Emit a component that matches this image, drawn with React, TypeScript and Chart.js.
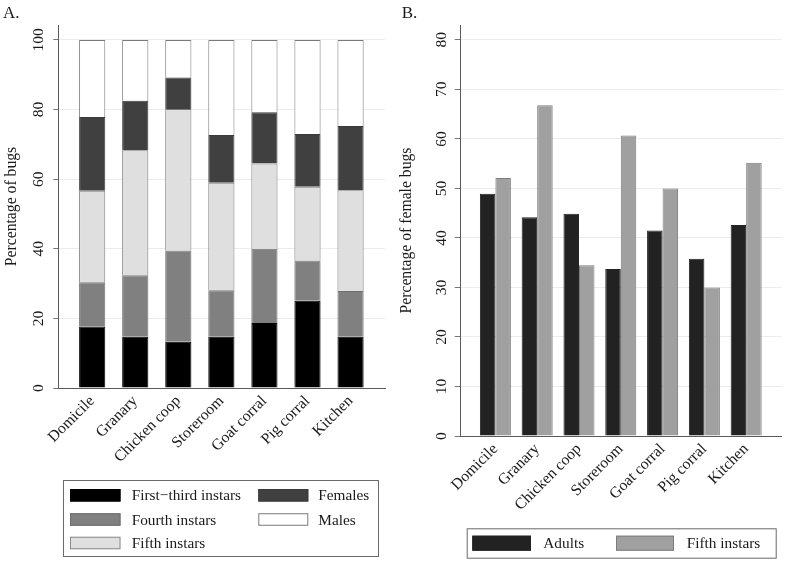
import React, { useEffect, useRef } from "react";
import { Chart, registerables } from "chart.js";

Chart.register(...registerables);

// ---------- data ----------
const CATEGORIES = ["Domicile", "Granary", "Chicken coop", "Storeroom", "Goat corral", "Pig corral", "Kitchen"];

// Panel A: percentage of bugs by stage (stacked to 100)
const FIRST_THIRD = [17.7, 14.7, 13.3, 14.7, 18.7, 25.1, 14.7];
const FOURTH = [12.7, 17.7, 26.2, 13.4, 21.3, 11.5, 13.2];
const FIFTH = [26.3, 35.9, 40.7, 30.9, 24.5, 21.2, 28.9];
const FEMALES = [21.2, 14.2, 9.0, 13.7, 14.7, 15.2, 18.5];
const MALES = [22.1, 17.5, 10.8, 27.3, 20.8, 27.0, 24.7];
const LEFT_Y_TICKS = [0, 20, 40, 60, 80, 100];

// Panel B: percentage of female bugs
const ADULTS = [48.9, 44.2, 44.9, 33.7, 41.5, 35.8, 42.6];
const FIFTH_FEMALE = [52.1, 66.8, 34.5, 60.7, 50.0, 30.0, 55.2];
const RIGHT_Y_TICKS = [0, 10, 20, 30, 40, 50, 60, 70, 80];

// ---------- styling ----------
const FAMILY = '"Liberation Serif", "Times New Roman", serif';
const TEXT = "#1a1a1a";
const AXIS = "#5a5a5a";
const GRID = "#ececec";

const toXY = (arr: number[]) => arr.map((v, i) => ({ x: i, y: v }));

function overlayPlugin(title: string, titleX: number, box: any, items: any[]) {
  return {
    id: "overlay",
    afterDraw(chart: any) {
      const ctx = chart.ctx as CanvasRenderingContext2D;
      ctx.save();
      ctx.fillStyle = TEXT;
      ctx.font = `17px ${FAMILY}`;
      ctx.textAlign = "left";
      ctx.textBaseline = "alphabetic";
      ctx.fillText(title, titleX, 18);

      ctx.strokeStyle = "#6a6a6a";
      ctx.lineWidth = 1;
      ctx.strokeRect(box.x + 0.5, box.y + 0.5, box.w, box.h);

      ctx.font = `15.3px ${FAMILY}`;
      ctx.textBaseline = "middle";
      items.forEach((it) => {
        const ds = chart.data.datasets[it.ds];
        ctx.fillStyle = ds.backgroundColor;
        ctx.fillRect(it.x, it.y - it.h / 2, it.w, it.h);
        ctx.strokeStyle = ds.swatchBorder;
        ctx.strokeRect(it.x + 0.5, it.y - it.h / 2 + 0.5, it.w - 1, it.h - 1);
        ctx.fillStyle = TEXT;
        ctx.fillText(ds.label, it.tx, it.y + 1);
      });
      ctx.restore();
    },
  };
}

function xAxis(min: number, max: number, height: number, stacked: boolean) {
  return {
    type: "linear",
    min,
    max,
    offset: false,
    stacked,
    afterBuildTicks: (s: any) => {
      s.ticks = CATEGORIES.map((_, i) => ({ value: i }));
    },
    afterFit: (s: any) => {
      s.height = height;
    },
    ticks: {
      autoSkip: false,
      minRotation: 45,
      maxRotation: 45,
      padding: 4,
      color: TEXT,
      font: { family: FAMILY, size: 15.7 },
      callback: (v: number) => CATEGORIES[v] ?? "",
    },
    grid: { drawOnChartArea: false, drawTicks: false, offset: false },
    border: { color: AXIS, width: 1 },
  };
}

function yAxis(max: number, ticks: number[], width: number, title: string, tickPad: number, tl: number, titlePadTop: number, stacked: boolean) {
  return {
    type: "linear",
    min: 0,
    max,
    stacked,
    afterBuildTicks: (s: any) => {
      s.ticks = ticks.map((v) => ({ value: v }));
    },
    afterFit: (s: any) => {
      s.width = width;
    },
    ticks: {
      minRotation: 90,
      maxRotation: 90,
      crossAlign: "center",
      padding: tickPad,
      color: TEXT,
      font: { family: FAMILY, size: 15.5 },
    },
    grid: { color: GRID, tickColor: "#777", tickLength: tl, lineWidth: 1 },
    border: { color: AXIS, width: 1 },
    title: {
      display: true,
      text: title,
      color: TEXT,
      font: { family: FAMILY, size: 15.7 },
      padding: { top: titlePadTop, bottom: 4 },
    },
  };
}

function LeftChart() {
  const ref = useRef<HTMLCanvasElement | null>(null);
  useEffect(() => {
    if (!ref.current) return;
    const mk = (label: string, data: number[], bg: string, border: string, swatchBorder: string) => ({
      label,
      data: toXY(data),
      backgroundColor: bg,
      borderColor: border,
      borderWidth: 1,
      swatchBorder,
      categoryPercentage: 0.608,
      barPercentage: 1,
    });
    const chart = new Chart(ref.current, {
      type: "bar",
      data: {
        datasets: [
          mk("First\u2212third instars", FIRST_THIRD, "#000000", "#000000", "#000000"),
          mk("Fourth instars", FOURTH, "#808080", "#6e6e6e", "#6e6e6e"),
          mk("Fifth instars", FIFTH, "#dfdfdf", "#7a7a7a", "#8a8a8a"),
          mk("Females", FEMALES, "#404040", "#3a3a3a", "#3a3a3a"),
          mk("Males", MALES, "#ffffff", "#7a7a7a", "#7a7a7a"),
        ] as any,
      },
      options: {
        responsive: false,
        animation: false,
        layout: { padding: { left: 0, right: 7, top: 25, bottom: 94 } },
        plugins: { legend: { display: false }, tooltip: { enabled: false } },
        scales: {
          x: xAxis(-0.787, 6.8, 80, true) as any,
          y: yAxis(104.3, LEFT_Y_TICKS, 58.3, "Percentage of bugs", 2.7, 5, 2.3, true) as any,
        },
      },
      plugins: [
        overlayPlugin(
          "A.",
          3,
          { x: 63, y: 480, w: 315, h: 76 },
          [
            { ds: 0, x: 70, y: 495.3, w: 50.5, h: 12.5, tx: 131.7 },
            { ds: 1, x: 70, y: 519.5, w: 50.5, h: 12.5, tx: 131.7 },
            { ds: 2, x: 70, y: 543, w: 50.5, h: 12.5, tx: 131.7 },
            { ds: 3, x: 258.3, y: 495.3, w: 50, h: 12.5, tx: 318.3 },
            { ds: 4, x: 258.3, y: 519.5, w: 50, h: 12.5, tx: 318.3 },
          ]
        ) as any,
      ],
    });
    return () => chart.destroy();
  }, []);
  return <canvas ref={ref} width={392} height={562} style={{ width: 392, height: 562, display: "block" }} />;
}

function RightChart() {
  const ref = useRef<HTMLCanvasElement | null>(null);
  useEffect(() => {
    if (!ref.current) return;
    const mk = (label: string, data: number[], bg: string, border: string) => ({
      label,
      data: toXY(data),
      backgroundColor: bg,
      borderColor: border,
      borderWidth: 1,
      swatchBorder: border,
      categoryPercentage: 0.742,
      barPercentage: 1,
    });
    const chart = new Chart(ref.current, {
      type: "bar",
      data: {
        datasets: [
          mk("Adults", ADULTS, "#222222", "#222222"),
          mk("Fifth instars", FIFTH_FEMALE, "#a0a0a0", "#7c7c7c"),
        ] as any,
      },
      options: {
        responsive: false,
        animation: false,
        layout: { padding: { left: 4, right: 3.3, top: 25, bottom: 46 } },
        plugins: { legend: { display: false }, tooltip: { enabled: false } },
        scales: {
          x: xAxis(-0.83, 6.85, 80, false) as any,
          y: yAxis(83, RIGHT_Y_TICKS, 64.7, "Percentage of female bugs", 4.9, 6, 1.3, false) as any,
        },
      },
      plugins: [
        overlayPlugin(
          "B.",
          9.7,
          { x: 74.7, y: 528.3, w: 309, h: 29.4 },
          [
            { ds: 0, x: 80.3, y: 543.2, w: 58.7, h: 15, tx: 151.3 },
            { ds: 1, x: 224, y: 543.2, w: 58, h: 15, tx: 294.7 },
          ]
        ) as any,
      ],
    });
    return () => chart.destroy();
  }, []);
  return <canvas ref={ref} width={393} height={562} style={{ width: 393, height: 562, display: "block" }} />;
}

export default function App() {
  return (
    <div style={{ position: "absolute", left: 0, top: 0, width: 785, height: 562, background: "#ffffff" }}>
      <div style={{ position: "absolute", left: 0, top: 0 }}>
        <LeftChart />
      </div>
      <div style={{ position: "absolute", left: 392, top: 0 }}>
        <RightChart />
      </div>
    </div>
  );
}
